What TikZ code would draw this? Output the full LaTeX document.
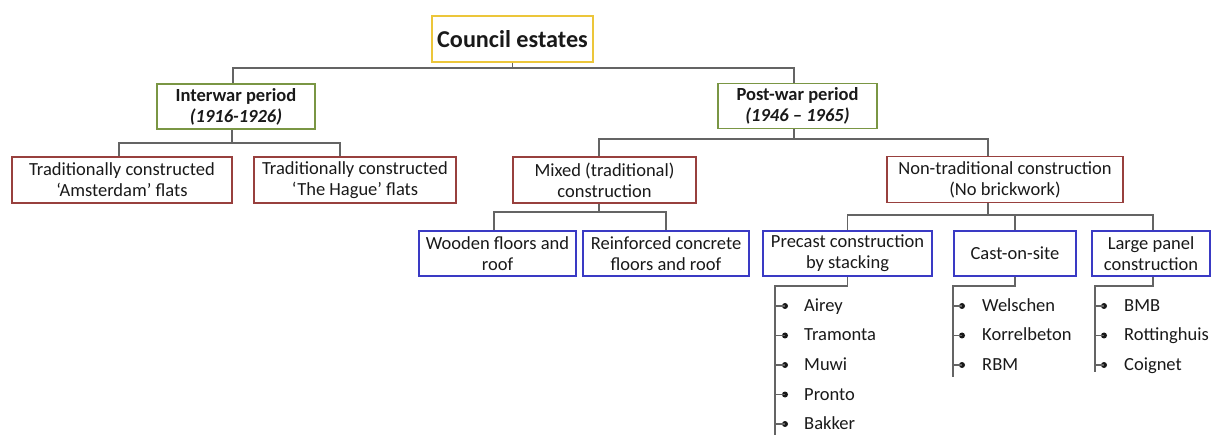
\documentclass[tikz,border=0pt]{standalone}
\usepackage{fontspec}
\setmainfont{Carlito}
\usetikzlibrary{calc}
\definecolor{cyel}{RGB}{236,198,58}
\definecolor{cgrn}{RGB}{122,150,68}
\definecolor{cred}{RGB}{152,64,62}
\definecolor{cblu}{RGB}{58,58,196}
\definecolor{cline}{RGB}{100,100,100}
\definecolor{ctxt}{RGB}{25,25,25}
\begin{document}
\begin{tikzpicture}[x=1pt,y=-1pt,
  box/.style={draw,line width=1.8pt,inner sep=0pt,align=center,text=ctxt,
    font=\fontsize{18.5}{21}\selectfont},
  topbox/.style={box,draw=cyel,font=\fontsize{24.2}{28}\selectfont\bfseries},
  perbox/.style={box,draw=cgrn,minimum height=45pt},
  redbox/.style={box,draw=cred,minimum height=46pt},
  blubox/.style={box,draw=cblu,minimum height=45pt},
  conn/.style={draw=cline,line width=1.1pt},
  dot/.style={circle,fill=ctxt,inner sep=0pt,minimum size=6pt},
  item/.style={anchor=base west,inner sep=0pt,text=ctxt,font=\fontsize{18.5}{21}\selectfont}]
\useasboundingbox (0,0) rectangle (1212,435);

% boxes
\node[topbox,minimum width=161pt,minimum height=46pt] (council) at (512.5,39) {Council estates};
\node[perbox,minimum width=158pt] (inter) at (236,106.5) {\textbf{Interwar period}\\\textbf{\textit{(1916-1926)}}};
\node[perbox,minimum width=159pt] (postwar) at (797.5,106) {\textbf{Post-war period}\\\textbf{\textit{(1946 – 1965)}}};
\node[redbox,minimum width=220pt] (amst) at (122,180) {Traditionally constructed\\‘Amsterdam’ flats};
\node[redbox,minimum width=202pt] (hague) at (355,180) {Traditionally constructed\\‘The Hague’ flats};
\node[redbox,minimum width=183pt] (mixed) at (604.5,180) {Mixed (traditional)\\construction};
\node[redbox,minimum width=236pt] (nontrad) at (1005,179.5) {Non-traditional construction\\(No brickwork)};
\node[blubox,minimum width=157pt] (wooden) at (497.5,253.5) {Wooden floors and\\roof};
\node[blubox,minimum width=166pt] (reinf) at (666,253.5) {Reinforced concrete\\floors and roof};
\node[blubox,minimum width=169pt] (precast) at (847.5,253.5) {Precast construction\\by stacking};
\node[blubox,minimum width=122pt] (cast) at (1015,253.5) {Cast-on-site};
\node[blubox,minimum width=118pt] (large) at (1151,253.5) {Large panel\\construction};

% level 1
\coordinate (h0) at (0,68);
\coordinate (i0) at ([xshift=-3pt]inter.north);
\coordinate (p0) at ([xshift=-3.5pt]postwar.north);
\draw[conn] (council.south) -- (council.south |- h0);
\draw[conn] (i0) |- (h0 -| p0) -- (p0);

% interwar children
\coordinate (h1) at (0,143);
\coordinate (i1) at ([xshift=-4pt]inter.south);
\coordinate (a1) at ([xshift=-3pt]amst.north);
\coordinate (b1) at ([xshift=-15pt]hague.north);
\draw[conn] (i1) -- (i1 |- h1);
\draw[conn] (a1) |- (h1 -| b1) -- (b1);

% postwar children
\coordinate (h2) at (0,139);
\coordinate (p2) at ([xshift=-3.5pt]postwar.south);
\coordinate (m2) at ([xshift=-5.5pt]mixed.north);
\coordinate (n2) at ([xshift=-17pt]nontrad.north);
\draw[conn] (p2) -- (p2 |- h2);
\draw[conn] (m2) |- (h2 -| n2) -- (n2);

% mixed children
\coordinate (h3) at (0,212);
\coordinate (m3) at ([xshift=-5.5pt]mixed.south);
\coordinate (w3) at ([xshift=-3.5pt]wooden.north);
\draw[conn] (m3) -- (m3 |- h3);
\draw[conn] (w3) |- (h3 -| reinf.north) -- (reinf.north);

% non-traditional children
\coordinate (h4) at (0,215);
\coordinate (n4) at ([xshift=-17pt]nontrad.south);
\coordinate (l4) at ([xshift=2pt]large.north);
\draw[conn] (n4) -- (n4 |- h4);
\draw[conn] (precast.north) |- (h4 -| l4) -- (l4);
\draw[conn] (cast.north) -- (cast.north |- h4);

% lists
\coordinate (hl) at (0,286);
\coordinate (v1) at (775,286);
\coordinate (v1e) at (775,435);
\coordinate (v2) at (953,286);
\coordinate (v2e) at (953,377);
\coordinate (v3) at (1095,286);
\coordinate (v3e) at (1095,372);
\coordinate (lg) at ([xshift=2pt]large.south);
\draw[conn] (precast.south) -- (precast.south |- hl) -- (v1) -- (v1e);
\draw[conn] (cast.south) -- (cast.south |- hl) -- (v2) -- (v2e);
\draw[conn] (lg) -- (lg |- hl) -- (v3) -- (v3e);

\foreach \t [count=\i] in {Airey,Tramonta,Muwi,Pronto,Bakker}{
  \node[dot] (pd\i) at (785,276.5+29.5*\i) {};
  \node[item] (pt\i) at (804,282+29.5*\i) {\t};
  \draw[conn] (pd\i.center) -- (pd\i -| v1);
}
\foreach \t [count=\i] in {Welschen,Korrelbeton,RBM}{
  \node[dot] (cd\i) at (962,276.5+29.5*\i) {};
  \node[item] (ct\i) at (982,282+29.5*\i) {\t};
  \draw[conn] (cd\i.center) -- (cd\i -| v2);
}
\foreach \t [count=\i] in {BMB,Rottinghuis,Coignet}{
  \node[dot] (ld\i) at (1104,276.5+29.5*\i) {};
  \node[item] (lt\i) at (1124,282+29.5*\i) {\t};
  \draw[conn] (ld\i.center) -- (ld\i -| v3);
}
\end{tikzpicture}
\end{document}
